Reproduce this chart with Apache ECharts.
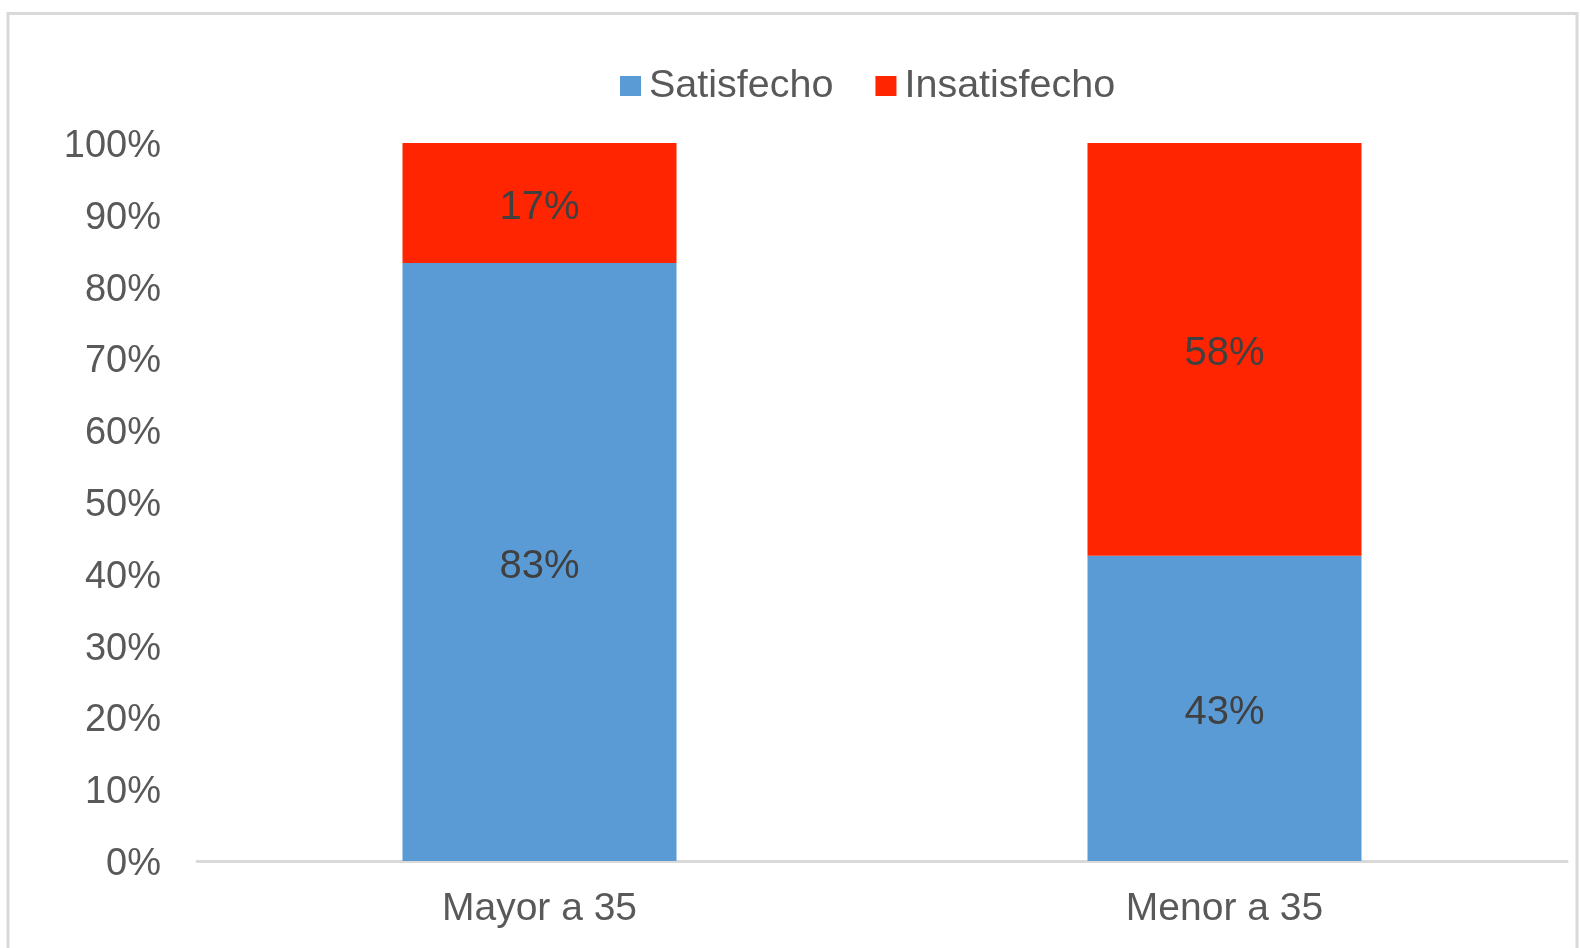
<!DOCTYPE html>
<html>
<head>
<meta charset="utf-8">
<script src="https://cdn.jsdelivr.net/npm/echarts@6/dist/echarts.min.js"></script>
<style>
html,body{margin:0;padding:0;background:#fff;}
#chart{width:1580px;height:948px;}
</style>
</head>
<body>
<div id="chart"></div>
<script>
const categories = ['Mayor a 35', 'Menor a 35'];
const seriesNames = ['Satisfecho', 'Insatisfecho'];
const satisfecho = [83.3, 42.5];
const insatisfecho = [16.7, 57.5];
const yTicks = [0, 10, 20, 30, 40, 50, 60, 70, 80, 90, 100];

const FONT = '"Liberation Sans", Arial, sans-serif';
const chart = echarts.init(document.getElementById('chart'), null, {renderer: 'canvas'});

const labelCfg = {
  show: true,
  position: 'inside',
  offset: [0, 5],
  color: '#404040',
  fontFamily: FONT,
  fontSize: 40,
  formatter: p => Math.round(p.value) + '%'
};

chart.setOption({
  animation: false,
  backgroundColor: '#ffffff',
  graphic: [{
    type: 'rect',
    shape: {x: 8, y: 13.5, width: 1569, height: 1000},
    style: {fill: null, stroke: '#d9d9d9', lineWidth: 3},
    silent: true
  }],
  legend: {
    data: seriesNames,
    left: 615,
    top: 61,
    itemWidth: 21,
    itemHeight: 20,
    itemGap: 42,
    icon: 'rect',
    textStyle: {color: '#595959', fontFamily: FONT, fontSize: 39.5, padding: [0, 0, 0, 3]}
  },
  grid: {left: 197, right: 13, top: 143, bottom: 87, containLabel: false},
  xAxis: {
    type: 'category',
    data: categories,
    axisLine: {lineStyle: {color: '#d9d9d9', width: 3}},
    axisTick: {show: false},
    axisLabel: {color: '#595959', fontFamily: FONT, fontSize: 39, margin: 29}
  },
  yAxis: {
    type: 'value',
    min: yTicks[0],
    max: yTicks[yTicks.length - 1],
    interval: yTicks[1] - yTicks[0],
    axisLine: {show: false},
    axisTick: {show: false},
    splitLine: {show: false},
    axisLabel: {
      margin: 36,
      formatter: v => '{a|' + v + '%}',
      rich: {a: {color: '#595959', fontFamily: FONT, fontSize: 38, padding: [7, 0, 0, 0]}}
    }
  },
  series: [
    {
      name: seriesNames[0], type: 'bar', stack: 'total', data: satisfecho,
      barWidth: '40%', itemStyle: {color: '#5B9BD5'}, label: labelCfg
    },
    {
      name: seriesNames[1], type: 'bar', stack: 'total', data: insatisfecho,
      barWidth: '40%', itemStyle: {color: '#FF2500'}, label: labelCfg
    }
  ]
});
</script>
</body>
</html>
